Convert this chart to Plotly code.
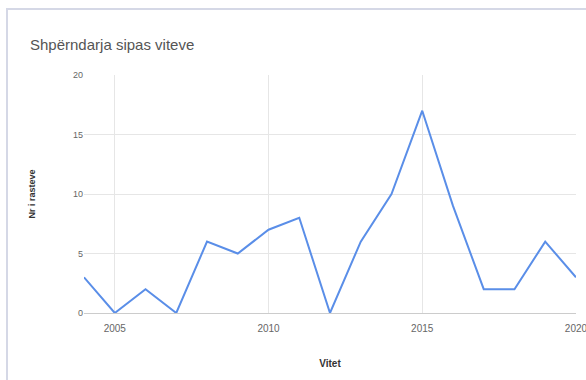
import plotly.graph_objects as go

years = [2004, 2005, 2006, 2007, 2008, 2009, 2010, 2011, 2012, 2013, 2014, 2015, 2016, 2017, 2018, 2019, 2020]
cases = [3, 0, 2, 0, 6, 5, 7, 8, 0, 6, 10, 17, 9, 2, 2, 6, 3]
x_ticks = [2005, 2010, 2015, 2020]
y_ticks = [0, 5, 10, 15, 20]

W, H = 586, 380
L, R, T, B = 84, 10, 75, 67
pw, ph = W - L - R, H - T - B

fig = go.Figure()
fig.add_trace(go.Scatter(x=years, y=cases, mode="lines",
                         line=dict(color="#5a8ee8", width=2), hoverinfo="x+y"))

fig.update_layout(
    width=W, height=H,
    margin=dict(l=L, r=R, t=T, b=B, autoexpand=False),
    paper_bgcolor="white", plot_bgcolor="white",
    showlegend=False,
    font=dict(family="Liberation Sans, Arial, sans-serif", color="#444"),
    title=dict(text="Shpërndarja sipas viteve", x=30 / W, xanchor="left",
               y=1 - 45 / H, yanchor="middle",
               font=dict(size=15, color="#555")),
    xaxis=dict(range=[2003.999, 2020.001], tickvals=x_ticks, showgrid=True,
               gridcolor="#e6e6e6", zeroline=False, showline=False,
               automargin=False,
               ticklabeloverflow="allow", ticklabelstandoff=8,
               tickfont=dict(size=10, color="#666"),
               title=dict(text="<b>Vitet</b>", font=dict(size=10, color="#333"), standoff=26)),
    yaxis=dict(range=[0, 20], tickvals=y_ticks, showgrid=True, automargin=False,
               gridcolor="#e6e6e6", zeroline=True, zerolinecolor="#cccccc", zerolinewidth=1,
               tickfont=dict(size=9, color="#666"),
               title=dict(text="<b>Nr i rasteve</b>", font=dict(size=9, color="#333"), standoff=35)),
    shapes=[dict(type="rect", xref="paper", yref="paper",
                 x0=(7 - L) / pw, x1=(W + 20 - L) / pw,
                 y0=(T + ph - (H + 20)) / ph, y1=(T + ph - 9) / ph,
                 line=dict(color="#d5d8e6", width=2), layer="below")],
)

fig.write_html("out.html")
